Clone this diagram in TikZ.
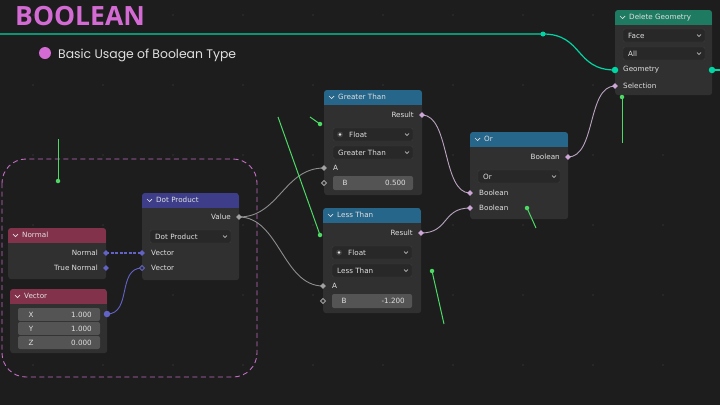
\documentclass[tikz,border=0pt]{standalone}
\usepackage{fontspec}
\setmainfont{DejaVu Sans}
\newfontfamily\titlefont{Open Sans}
\newfontfamily\subfont{Poppins}
\usetikzlibrary{shapes.geometric,positioning}

\definecolor{bg}{HTML}{1D1D1D}
\definecolor{gridpt}{HTML}{2B2B2B}
\definecolor{nbody}{HTML}{303030}
\definecolor{ntext}{HTML}{E0E0E0}
\definecolor{hgeo}{HTML}{1E7B62}
\definecolor{hcmp}{HTML}{26668A}
\definecolor{hvec}{HTML}{3D3D8A}
\definecolor{hinp}{HTML}{83324C}
\definecolor{menu}{HTML}{282828}
\definecolor{menuline}{HTML}{3E3E3E}
\definecolor{field}{HTML}{545454}
\definecolor{sfloat}{HTML}{A1A1A1}
\definecolor{sbool}{HTML}{CCA6D6}
\definecolor{svec}{HTML}{6363C7}
\definecolor{sgeo}{HTML}{00D6A3}
\definecolor{linkbool}{HTML}{B9A3BF}
\definecolor{linkfloat}{HTML}{8E8E8E}
\definecolor{note}{HTML}{4CD964}
\definecolor{titlepink}{HTML}{D46BD4}
\definecolor{framepink}{HTML}{C46CC4}

\pgfdeclarelayer{front}
\pgfsetlayers{main,front}

\tikzset{
  body/.style={fill=nbody, rounded corners=3pt, anchor=north west, inner sep=0pt},
  lbl/.style={text=ntext, font=\fontsize{7.2}{8}\selectfont, inner sep=0pt},
  sockd/.style={diamond, fill=#1, inner sep=0pt, minimum size=6pt},
  sockh/.style={diamond, draw=#1, fill=nbody, line width=0.9pt, inner sep=0pt, minimum size=5.5pt},
  sockc/.style={circle, fill=#1, inner sep=0pt, minimum size=6.5pt},
  menubox/.style={fill=menu, draw=menuline, rounded corners=2pt, line width=0.4pt},
  fieldbox/.style={fill=field, rounded corners=2pt},
  link/.style={line width=0.9pt},
  pointer/.style={note, line width=1pt},
  pdot/.style={circle, fill=note, inner sep=0pt, minimum size=4.5pt},
}

% name, x, y, width, height, header colour, title
\newcommand\bnode[7]{
  \node[body, minimum width=#4pt, minimum height=#5pt] (#1) at (#2,#3) {};
  \begin{scope}
    \clip[rounded corners=3pt] (#2,#3) rectangle ++(#4,#5);
    \fill[#6] (#2,#3) rectangle ++(#4,14.5);
  \end{scope}
  \draw[ntext, line width=0.7pt] (#2+5,#3+6) -- ++(2.5,2.5) -- ++(2.5,-2.5);
  \node[lbl, anchor=west] (#1-title) at (#2+14,#3+7.3) {#7};
}
% name, x, y, width, text
\newcommand\menu[5]{
  \draw[menubox] (#2,#3) rectangle ++(#4,13);
  \node[lbl, anchor=west] (#1) at (#2+5,#3+6.5) {#5};
  \draw[ntext, line width=0.6pt] (#2+#4-8,#3+5.5) -- ++(2,2) -- ++(2,-2);
}
% name, style, x, y
\newcommand\sock[4]{
  \begin{pgfonlayer}{front}\node[#2] (#1) at (#3,#4) {};\end{pgfonlayer}
}

\begin{document}
\begin{tikzpicture}[x=1pt, y=-1pt]
  \useasboundingbox (0,0) rectangle (720,405);
  \fill[bg] (0,0) rectangle (720,405);
  \foreach \gx in {33,103,...,733}
    \foreach \gy in {15,85,...,405}
      \fill[gridpt] (\gx,\gy) circle (1.2pt);

  % heading
  \node[anchor=west, inner sep=0pt, text=titlepink, font=\titlefont\bfseries\fontsize{26.5}{28}\selectfont] (title) at (15,16.5) {BOOLEAN};
  \fill[titlepink] (45,53) circle (6pt);
  \node[anchor=base west, inner sep=0pt, text=ntext, font=\subfont\fontsize{12.4}{14}\selectfont] (subtitle) at (58,58) {Basic Usage of Boolean Type};

  % group frame
  \draw[framepink, line width=0.9pt, dash pattern=on 5pt off 3.5pt, rounded corners=24pt] (2,159) rectangle (257,377);

  % Delete Geometry
  \bnode{del}{615}{10}{97}{85}{hgeo}{Delete Geometry}
  \menu{del-dom}{623}{29}{82}{Face}
  \menu{del-mode}{623}{47}{82}{All}
  \sock{del-geo}{sockc=sgeo}{615}{70}
  \node[lbl, anchor=west] (del-geo-l) at (623,70) {Geometry};
  \sock{del-out}{sockc=sgeo}{712}{70}
  \sock{del-sel}{sockd=sbool}{615}{86}
  \node[lbl, anchor=west] (del-sel-l) at (623,86) {Selection};

  % Greater Than
  \bnode{gt}{324}{90}{98}{105}{hcmp}{Greater Than}
  \node[lbl, anchor=east] (gt-res-l) at (414,115) {Result};
  \sock{gt-res}{sockd=sbool}{422}{115}
  \menu{gt-type}{333}{128}{80}{\hspace{11pt}Float}
  \fill[black!75] (340,134.5) circle (3pt);
  \fill[ntext] (340,134.5) circle (1.4pt);
  \menu{gt-op}{333}{146}{80}{Greater Than}
  \sock{gt-a}{sockd=sfloat}{324}{168}
  \node[lbl, anchor=west] (gt-a-l) at (333,168) {A};
  \sock{gt-b}{sockh=sfloat}{324}{183}
  \fill[fieldbox] (333,176) rectangle (413,190);
  \node[lbl] (gt-b-l) at (345,183) {B};
  \node[lbl, anchor=east] (gt-b-v) at (406,183) {0.500};

  % Less Than
  \bnode{lt}{323}{208}{98}{105}{hcmp}{Less Than}
  \node[lbl, anchor=east] (lt-res-l) at (413,233) {Result};
  \sock{lt-res}{sockd=sbool}{421}{233}
  \menu{lt-type}{332}{246}{80}{\hspace{11pt}Float}
  \fill[black!75] (339,252.5) circle (3pt);
  \fill[ntext] (339,252.5) circle (1.4pt);
  \menu{lt-op}{332}{264}{80}{Less Than}
  \sock{lt-a}{sockd=sfloat}{323}{286}
  \node[lbl, anchor=west] (lt-a-l) at (332,286) {A};
  \sock{lt-b}{sockh=sfloat}{323}{301}
  \fill[fieldbox] (332,294) rectangle (412,308);
  \node[lbl] (lt-b-l) at (344,301) {B};
  \node[lbl, anchor=east] (lt-b-v) at (405,301) {-1.200};

  % Or
  \bnode{or}{470}{132}{98}{87}{hcmp}{Or}
  \node[lbl, anchor=east] (or-out-l) at (560,157) {Boolean};
  \sock{or-out}{sockd=sbool}{568}{157}
  \menu{or-op}{478}{170}{82}{Or}
  \sock{or-b1}{sockd=sbool}{470}{193}
  \node[lbl, anchor=west] (or-b1-l) at (479,193) {Boolean};
  \sock{or-b2}{sockd=sbool}{470}{208}
  \node[lbl, anchor=west] (or-b2-l) at (479,208) {Boolean};

  % Dot Product
  \bnode{dot}{142}{193}{97}{87}{hvec}{Dot Product}
  \node[lbl, anchor=east] (dot-val-l) at (231,217) {Value};
  \sock{dot-val}{sockd=sfloat}{239}{217}
  \menu{dot-op}{150}{230}{81}{Dot Product}
  \sock{dot-v1}{sockd=svec}{142}{253}
  \node[lbl, anchor=west] (dot-v1-l) at (151,253) {Vector};
  \sock{dot-v2}{sockh=svec}{142}{268}
  \node[lbl, anchor=west] (dot-v2-l) at (151,268) {Vector};

  % Normal
  \bnode{nrm}{8}{228}{98}{51}{hinp}{Normal}
  \node[lbl, anchor=east] (nrm-n-l) at (98,253) {Normal};
  \sock{nrm-n}{sockd=svec}{106}{253}
  \node[lbl, anchor=east] (nrm-t-l) at (98,268) {True Normal};
  \sock{nrm-t}{sockd=svec}{106}{268}

  % Vector
  \bnode{vec}{10}{289}{97}{64}{hinp}{Vector}
  \sock{vec-out}{sockc=svec}{107}{314}
  \foreach \c/\v/\y in {X/1.000/308, Y/1.000/322, Z/0.000/336}{
    \fill[fieldbox] (18,\y) rectangle ++(82,13);
    \node[lbl] (vec-\c) at (31,\y+6.5) {\c};
    \node[lbl, anchor=east] (vec-\c-v) at (92,\y+6.5) {\v};
  }

  % links
  \coordinate (geo-in) at (0,34);
  \coordinate (geo-end) at (720,70);
  \sock{reroute}{sockc=sgeo, minimum size=5pt}{543}{34}
  \draw[link, sgeo, line width=1.2pt] (geo-in) -- (reroute.center) .. controls +(40,0) and +(-40,0) .. (del-geo.center);
  \draw[link, sgeo, line width=1.2pt] (del-out.center) -- (geo-end);
  \draw[link, linkfloat] (dot-val.center) .. controls +(40,0) and +(-40,0) .. (gt-a.center);
  \draw[link, linkfloat] (dot-val.center) .. controls +(40,0) and +(-40,0) .. (lt-a.center);
  \draw[link, linkbool] (gt-res.center) .. controls +(28,0) and +(-28,0) .. (or-b1.center);
  \draw[link, linkbool] (lt-res.center) .. controls +(28,0) and +(-28,0) .. (or-b2.center);
  \draw[link, linkbool] (or-out.center) .. controls +(28,0) and +(-28,0) .. (del-sel.center);
  \draw[link, svec, line width=1.1pt, dash pattern=on 3pt off 1.5pt] (nrm-n.center) -- (dot-v1.center);
  \draw[link, svec] (vec-out.center) .. controls +(25,0) and +(-25,0) .. (dot-v2.center);

  % pointers
  \foreach \i/\a/\b/\c/\d in {1/58/139/58/181, 2/310/117/320/124, 3/278/117/320/235,
                              4/536/228/527/208, 5/444/324/432/271, 6/622/143/622/97}{
    \coordinate (tail\i) at (\a,\b);
    \node[pdot] (tip\i) at (\c,\d) {};
    \draw[pointer] (tail\i) -- (tip\i.center);
  }
\end{tikzpicture}
\end{document}
